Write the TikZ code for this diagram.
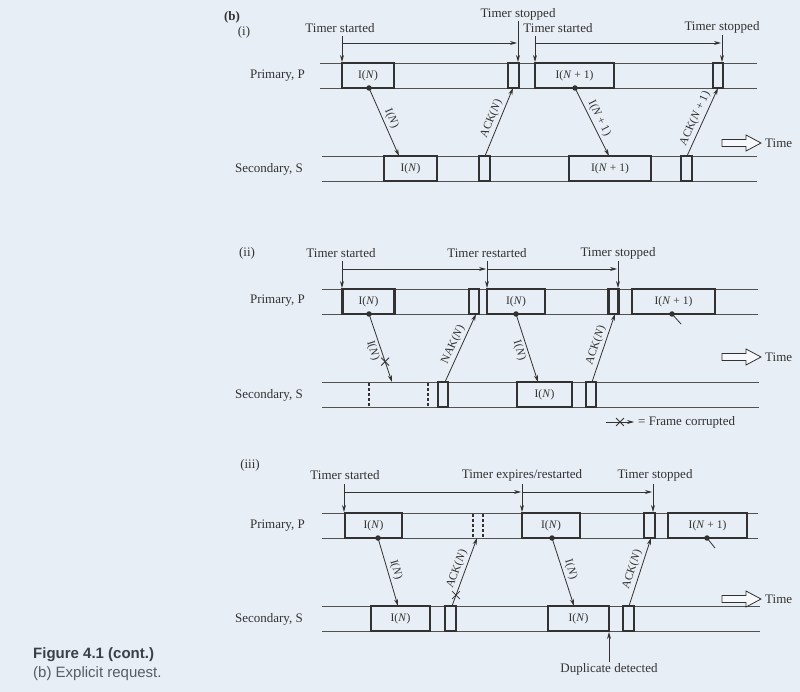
\documentclass[tikz,border=0pt]{standalone}
\usepackage{fontspec}
\setmainfont{Liberation Serif}
\newfontfamily\capfont{Liberation Sans}
\usetikzlibrary{arrows.meta,shapes.misc,calc}
\definecolor{bgc}{RGB}{232,238,245}
\definecolor{ink}{RGB}{50,50,50}
\definecolor{capink}{RGB}{58,64,72}
\newcommand\fsLbl{\fontsize{13}{15}\selectfont}
\newcommand\fsMsg{\fontsize{11.5}{13}\selectfont}
\newcommand\fsBox{\fontsize{11.5}{13}\selectfont}
\newcommand\fsCap{\fontsize{15}{17}\selectfont}
\tikzset{
  tl/.style={draw=ink!85, line width=0.75pt},
  frm/.style={draw=ink, line width=2.8pt, inner sep=0pt, minimum height=25pt, font=\fsBox, text=ink},
  dfrm/.style={draw=ink, line width=1.6pt, dash pattern=on 3pt off 2pt},
  msg/.style={draw=ink, line width=0.8pt, -{Stealth[length=7pt,width=4pt]}},
  tmr/.style={draw=ink, line width=0.8pt, -{Stealth[length=7pt,width=4pt]}},
  lbl/.style={font=\fsLbl, text=ink, inner sep=1pt},
  mlbl/.style={font=\fsMsg, text=ink, sloped, inner sep=2.5pt},
  sdot/.style={circle, fill=ink, inner sep=0pt, minimum size=5.5pt},
  xmark/.style={cross out, draw=ink, line width=0.8pt, minimum size=7pt, inner sep=0pt},
  timearr/.style={draw=ink, line width=0.8pt, fill=white!60!bgc},
}
\newcommand\TimeArrow[2]{%
  \draw[timearr] (722,#1-3.5) -- (746,#1-3.5) -- (746,#1-8) -- (761,#1) -- (746,#1+8) -- (746,#1+3.5) -- (722,#1+3.5) -- cycle;
  \node[lbl, anchor=west] (#2) at (764,#1) {Time};}
\begin{document}
\begin{tikzpicture}[x=1pt,y=-1pt]
\fill[bgc] (0,0) rectangle (800,692);
\useasboundingbox (0,0) rectangle (800,692);

% ================= (i) =================
\node[lbl, font=\bfseries\fsLbl] (hb) at (232,17) {(b)};
\node[lbl] (h1) at (244,32) {(i)};
\draw[tl] (320,63) -- (757,63);
\draw[tl] (320,88) -- (757,88);
\draw[tl] (322,156) -- (757,156);
\draw[tl] (322,181) -- (757,181);
\node[lbl, anchor=east] (pl1) at (306,76) {Primary, P};
\node[lbl, anchor=east] (sl1) at (304,169) {Secondary, S};

\node[frm, minimum width=52pt] (p1a) at (368,75.5) {I(\textit{N})};
\node[frm, minimum width=11pt] (p1b) at (513.5,75.5) {};
\node[frm, minimum width=79pt] (p1c) at (574.5,75.5) {I(\textit{N} + 1)};
\node[frm, minimum width=10pt] (p1d) at (718,75.5) {};
\node[frm, minimum width=53pt] (s1a) at (410.5,168.5) {I(\textit{N})};
\node[frm, minimum width=11pt] (s1b) at (484.5,168.5) {};
\node[frm, minimum width=82pt] (s1c) at (610,168.5) {I(\textit{N} + 1)};
\node[frm, minimum width=11pt] (s1d) at (686.5,168.5) {};

\node[sdot] (d1a) at (369,88) {};
\node[sdot] (d1c) at (575,88) {};
\coordinate (e1a) at (399,156);
\coordinate (e1c) at (609,156);
\coordinate (b1b) at (485,156);
\coordinate (t1b) at (513,88);
\coordinate (b1d) at (687,156);
\coordinate (t1d) at (718,88);
\draw[msg] (d1a.center) -- node[mlbl, above] {I(\textit{N})} (e1a);
\draw[msg] (b1b) -- node[mlbl, above] {ACK(\textit{N})} (t1b);
\draw[msg] (d1c.center) -- node[mlbl, above] {I(\textit{N} + 1)} (e1c);
\draw[msg] (b1d) -- node[mlbl, above] {ACK(\textit{N} + 1)} (t1d);

\node[lbl] (T1a) at (340,28) {Timer started};
\node[lbl] (T1b) at (518,14) {Timer stopped};
\node[lbl] (T1c) at (558,28) {Timer started};
\node[lbl] (T1d) at (722,27) {Timer stopped};
\coordinate (v1a) at (342,36); \coordinate (w1a) at (342,62);
\coordinate (v1b) at (518,21); \coordinate (w1b) at (518,62);
\coordinate (v1c) at (535,36); \coordinate (w1c) at (535,62);
\coordinate (v1d) at (722,35); \coordinate (w1d) at (722,62);
\draw[tmr] (v1a) -- (w1a);
\draw[tmr] (v1b) -- (w1b);
\draw[tmr] (v1c) -- (w1c);
\draw[tmr] (v1d) -- (w1d);
\coordinate (h1s) at (342,43); \coordinate (h1e) at (517,43);
\coordinate (h1s2) at (535,43); \coordinate (h1e2) at (721,43);
\draw[tmr] (h1s) -- (h1e);
\draw[tmr] (h1s2) -- (h1e2);
\TimeArrow{143}{time1}

% ================= (ii) =================
\node[lbl] (h2) at (247,253) {(ii)};
\draw[tl] (322,289) -- (758,289);
\draw[tl] (322,314) -- (758,314);
\draw[tl] (322,382) -- (759,382);
\draw[tl] (322,407) -- (759,407);
\node[lbl, anchor=east] (pl2) at (306,301) {Primary, P};
\node[lbl, anchor=east] (sl2) at (304,395) {Secondary, S};

\node[frm, minimum width=52pt] (p2a) at (368.5,301.5) {I(\textit{N})};
\node[frm, minimum width=10pt] (p2b) at (474,301.5) {};
\node[frm, minimum width=58pt] (p2c) at (516,301.5) {I(\textit{N})};
\node[frm, minimum width=10pt] (p2d) at (613.5,301.5) {};
\node[frm, minimum width=83pt] (p2e) at (673.5,301.5) {I(\textit{N} + 1)};
\draw[dfrm] (369,383) -- (369,406);
\draw[dfrm] (428,383) -- (428,406);
\node[frm, minimum width=10pt] (s2b) at (443,394.5) {};
\node[frm, minimum width=55pt] (s2c) at (544.5,394.5) {I(\textit{N})};
\node[frm, minimum width=10pt] (s2d) at (591,394.5) {};

\node[sdot] (d2a) at (369,314) {};
\node[sdot] (d2c) at (516,314) {};
\node[sdot] (d2e) at (672,314) {};
\coordinate (k2e) at (681,324);
\draw[ink, line width=0.8pt] (d2e.center) -- (k2e);
\coordinate (e2a) at (392,382);
\coordinate (e2c) at (538,382);
\coordinate (b2b) at (445,382);
\coordinate (t2b) at (476,314);
\coordinate (b2d) at (592,382);
\coordinate (t2d) at (615,314);
\draw[msg] (d2a.center) -- node[mlbl, below] {I(\textit{N})} node[xmark, pos=0.7] (x2a) {} (e2a);
\draw[msg] (b2b) -- node[mlbl, above] {NAK(\textit{N})} (t2b);
\draw[msg] (d2c.center) -- node[mlbl, below] {I(\textit{N})} (e2c);
\draw[msg] (b2d) -- node[mlbl, above] {ACK(\textit{N})} (t2d);

\node[lbl] (T2a) at (341,253) {Timer started};
\node[lbl] (T2b) at (487,253) {Timer restarted};
\node[lbl] (T2c) at (618,253) {Timer stopped};
\coordinate (v2a) at (342,261); \coordinate (w2a) at (342,288);
\coordinate (v2b) at (487,261); \coordinate (w2b) at (487,288);
\coordinate (v2c) at (618,261); \coordinate (w2c) at (618,288);
\draw[tmr] (v2a) -- (w2a);
\draw[tmr] (v2b) -- (w2b);
\draw[tmr] (v2c) -- (w2c);
\coordinate (h2s) at (342,269); \coordinate (h2e) at (486,269);
\coordinate (h2s2) at (487,269); \coordinate (h2e2) at (617,269);
\draw[tmr] (h2s) -- (h2e);
\draw[tmr] (h2s2) -- (h2e2);
\TimeArrow{357}{time2}

\coordinate (lg1) at (606,422); \coordinate (lg2) at (634,422);
\draw[msg] (lg1) -- node[xmark, pos=0.5] (lgx) {} (lg2);
\node[lbl, anchor=west] (lgt) at (637,422) {= Frame corrupted};

% ================= (iii) =================
\node[lbl] (h3) at (250,465) {(iii)};
\draw[tl] (322,513) -- (758,513);
\draw[tl] (322,538) -- (758,538);
\draw[tl] (322,606) -- (760,606);
\draw[tl] (322,631) -- (760,631);
\node[lbl, anchor=east] (pl3) at (306,525.5) {Primary, P};
\node[lbl, anchor=east] (sl3) at (304,619) {Secondary, S};

\node[frm, minimum width=57pt] (p3a) at (373.5,525.5) {I(\textit{N})};
\draw[dfrm] (473,514) -- (473,537);
\draw[dfrm] (483,514) -- (483,537);
\node[frm, minimum width=58pt] (p3c) at (551,525.5) {I(\textit{N})};
\node[frm, minimum width=11pt] (p3d) at (649.5,525.5) {};
\node[frm, minimum width=79pt] (p3e) at (707.5,525.5) {I(\textit{N} + 1)};
\node[frm, minimum width=59pt] (s3a) at (400.5,618.5) {I(\textit{N})};
\node[frm, minimum width=11pt] (s3b) at (450.5,618.5) {};
\node[frm, minimum width=61pt] (s3c) at (578.5,618.5) {I(\textit{N})};
\node[frm, minimum width=11pt] (s3d) at (628.5,618.5) {};

\node[sdot] (d3a) at (378,538) {};
\node[sdot] (d3c) at (552,538) {};
\node[sdot] (d3e) at (707,538) {};
\coordinate (k3e) at (715,548);
\draw[ink, line width=0.8pt] (d3e.center) -- (k3e);
\coordinate (e3a) at (398,606);
\coordinate (e3c) at (574,606);
\coordinate (b3b) at (452,606);
\coordinate (t3b) at (477,538);
\coordinate (b3d) at (629,606);
\coordinate (t3d) at (651,538);
\draw[msg] (d3a.center) -- node[mlbl, above] {I(\textit{N})} (e3a);
\draw[msg] (b3b) -- node[mlbl, above] {ACK(\textit{N})} node[xmark, pos=0.16] (x3b) {} (t3b);
\draw[msg] (d3c.center) -- node[mlbl, above] {I(\textit{N})} (e3c);
\draw[msg] (b3d) -- node[mlbl, above] {ACK(\textit{N})} (t3d);

\node[lbl] (T3a) at (345,475) {Timer started};
\node[lbl] (T3b) at (522,475) {Timer expires/restarted};
\node[lbl] (T3c) at (655,475) {Timer stopped};
\coordinate (v3a) at (344,484); \coordinate (w3a) at (344,512);
\coordinate (v3b) at (522,484); \coordinate (w3b) at (522,512);
\coordinate (v3c) at (653,484); \coordinate (w3c) at (653,512);
\draw[tmr] (v3a) -- (w3a);
\draw[tmr] (v3b) -- (w3b);
\draw[tmr] (v3c) -- (w3c);
\coordinate (h3s) at (344,492); \coordinate (h3e) at (521,492);
\coordinate (h3s2) at (522,492); \coordinate (h3e2) at (652,492);
\draw[tmr] (h3s) -- (h3e);
\draw[tmr] (h3s2) -- (h3e2);
\TimeArrow{599}{time3}

\node[lbl] (dup) at (609,669) {Duplicate detected};
\coordinate (dupt) at (609,632);
\draw[tmr] (dup.north) -- (dupt);

% ================= caption =================
\node[anchor=west, font=\capfont\bfseries\fsCap, text=capink, inner sep=0pt] (cap1) at (33,655) {Figure 4.1 (cont.)};
\node[anchor=west, font=\capfont\fsCap, text=capink!85, inner sep=0pt] (cap2) at (33,674) {(b) Explicit request.};
\end{tikzpicture}
\end{document}
